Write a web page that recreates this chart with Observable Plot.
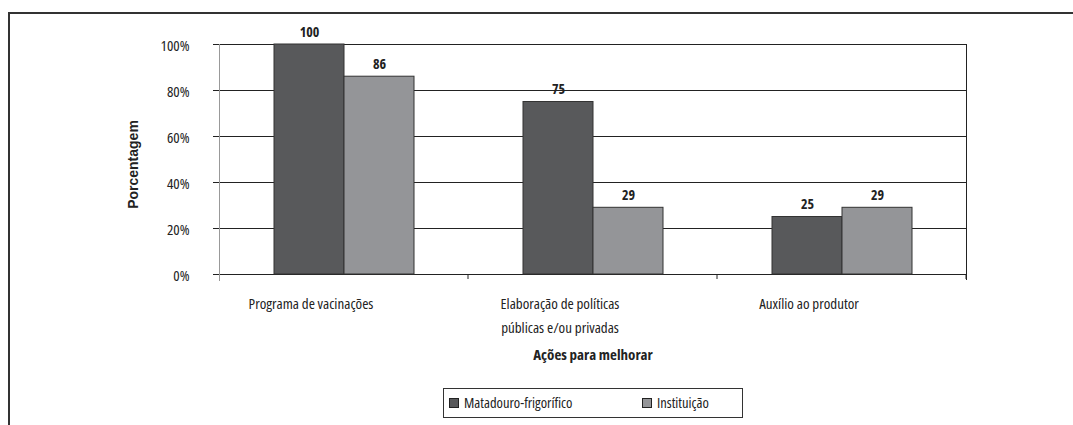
<!DOCTYPE html>
<html><head><meta charset="utf-8">
<script src="https://cdn.jsdelivr.net/npm/d3@7"></script>
<script src="https://cdn.jsdelivr.net/npm/@observablehq/plot@0.6"></script>
<style>
body{margin:0;background:#fff;}
#wrap{position:relative;width:1073px;height:425px;overflow:hidden;font-family:"Open Sans",sans-serif;font-stretch:75%;color:#222;}
#border{position:absolute;left:8px;top:12px;width:1080px;height:430px;border-left:2px solid #333;border-top:2px solid #333;}
#chart{position:absolute;left:0;top:0;}
#chart svg text{font-stretch:75%;}
#chart svg .ylab text{font-stretch:100%;}
#legend{position:absolute;left:443px;top:388px;width:300px;height:30px;border:1px solid #333;box-sizing:border-box;font-size:14.5px;}
#legend .sw{position:absolute;top:9px;width:8px;height:8px;border:1px solid #222;}
#legend .lb{position:absolute;top:5px;line-height:18px;white-space:nowrap;}
</style>
</head><body>
<div id="wrap">
<div id="border"></div>
<div id="chart"></div>
<div id="legend"></div>
</div>
<script>
const categories = ["Programa de vacinações", "Elaboração de políticas\npúblicas e/ou privadas", "Auxílio ao produtor"];
const series = ["Matadouro-frigorífico", "Instituição"];
const matadouro = [100, 75, 25];
const instituicao = [86, 29, 29];
const yTicks = [0, 20, 40, 60, 80, 100];
const colors = ["#58595b", "#949598"];
const yLabel = "Porcentagem";
const xLabel = "Ações para melhorar";

const data = categories.flatMap((c, i) => [
  {cat: c, serie: series[0], value: matadouro[i]},
  {cat: c, serie: series[1], value: instituicao[i]}
]);

function boundaryTicks(index, scales, values, dim) {
  const g = d3.create("svg:g");
  const y0 = scales.y ? scales.y(0) : dim.height - dim.marginBottom;
  let xs;
  if (scales.fx) {
    xs = categories.map(c => scales.fx(c));
    xs.push(scales.fx(categories[categories.length - 1]) + scales.fx.bandwidth());
  } else {
    const w = (dim.width - dim.marginLeft - dim.marginRight) / categories.length;
    xs = d3.range(categories.length + 1).map(i => dim.marginLeft + i * w);
  }
  g.selectAll("line").data(xs.slice(1)).join("line")
    .attr("x1", d => d).attr("x2", d => d)
    .attr("y1", y0).attr("y2", y0 + 5)
    .attr("stroke", "#222").attr("stroke-width", 1);
  return g.node();
}

const chart = Plot.plot({
  width: 1073,
  height: 380,
  marginLeft: 218,
  marginRight: 106,
  marginTop: 44,
  marginBottom: 106,
  style: {fontFamily: "'Open Sans', sans-serif", fontSize: "15px", color: "#222", background: "transparent", overflow: "visible"},
  fx: {domain: categories, padding: 0, label: null},
  x: {domain: series, paddingInner: 0, paddingOuter: 0.773, axis: null},
  y: {domain: [0, 100], axis: null},
  color: {domain: series, range: colors},
  marks: [
    Plot.ruleY(yTicks, {stroke: "#222", strokeWidth: 1, insetLeft: -6}),
    Plot.frame({facet: "super", anchor: "left", stroke: "#999", insetBottom: -6}),
    Plot.frame({facet: "super", anchor: "right", stroke: "#222", insetBottom: -5}),
    Plot.frame({facet: "super", stroke: "none", render: boundaryTicks}),
    Plot.barY(data, {fx: "cat", x: "serie", y: "value", fill: "serie", stroke: "#333", strokeWidth: 1}),
    Plot.text(data, {fx: "cat", x: "serie", y: "value", text: d => String(d.value), dy: -12, fontWeight: "bold", fontSize: 14, fill: "#222"}),
    Plot.axisY({ticks: yTicks, tickFormat: d => d + "%", tickSize: 0, tickPadding: 30, label: null, fontSize: 15, dy: 2}),
    Plot.axisFx({anchor: "bottom", tickSize: 0, tickPadding: 17, lineHeight: 1.6, label: null, fontSize: 15, dx: -33}),
    Plot.text([xLabel], {facet: "super", frameAnchor: "bottom", dy: 85, fontWeight: "bold", fontSize: 15, fill: "#222"}),
    Plot.text([yLabel], {facet: "super", frameAnchor: "left", textAnchor: "middle", rotate: -90, dx: -86, dy: 5, fontWeight: "bold", fontSize: 14, fill: "#222", fontFamily: "'Liberation Sans', Arial, sans-serif", className: "ylab"})
  ]
});
document.getElementById("chart").appendChild(chart);

const legend = d3.select("#legend");
const swX = [5, 198];
const lbX = [20, 213];
series.forEach((s, i) => {
  legend.append("div").attr("class", "sw").style("left", swX[i] + "px").style("background", colors[i]);
  legend.append("div").attr("class", "lb").style("left", lbX[i] + "px").text(s);
});
</script>
</body></html>
